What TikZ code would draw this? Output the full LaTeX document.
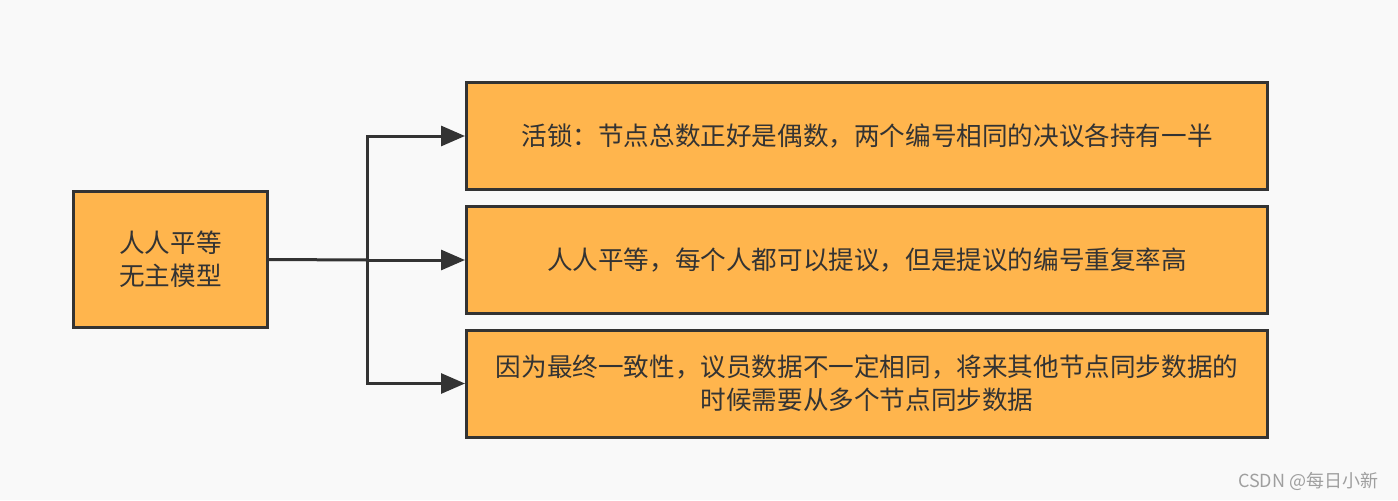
\documentclass[tikz,border=0pt]{standalone}
\usepackage{fontspec}
\newfontfamily\cjk{Noto Sans CJK SC}
\usepackage{xcolor}
\usetikzlibrary{arrows.meta,positioning}
\definecolor{boxfill}{HTML}{FFB54D}
\definecolor{edgec}{HTML}{333333}
\definecolor{bgc}{HTML}{F9F9F9}

\begin{document}
\begin{tikzpicture}[x=0.75pt, y=-0.75pt, >={Triangle[length=18pt,width=15pt]},
    every node/.style={font=\cjk\fontsize{19.2}{24.75}\selectfont, text=edgec},
    box/.style={draw=edgec, line width=2.25pt, fill=boxfill, align=center, inner sep=0pt},
    wide/.style={box, minimum width=600.75pt, minimum height=80.25pt}]
\fill[bgc] (0,0) rectangle (1398,500);
\node[box, minimum width=145pt, minimum height=102pt] (root) at (170.5,259.5) {人人平等\\无主模型};
\node[wide] (r1) at (867,136) {活锁：节点总数正好是偶数，两个编号相同的决议各持有一半};
\node[wide] (r2) at (867,260) {人人平等，每个人都可以提议，但是提议的编号重复率高};
\node[wide] (r3) at (867,383.5) {因为最终一致性，议员数据不一定相同，将来其他节点同步数据的\\时候需要从多个节点同步数据};
\coordinate (split) at (367,260);
\draw[edgec, line width=2.25pt] (root.east) -- (split);
\foreach \k in {1,2,3} {
    \draw[edgec, line width=2.25pt, ->] (split) |- (r\k.west);
}
\node[font=\cjk\fontsize{13.5}{16}\selectfont, text=gray!75, anchor=east] (mark) at (1383,481) {CSDN @每日小新};
\end{tikzpicture}
\end{document}
